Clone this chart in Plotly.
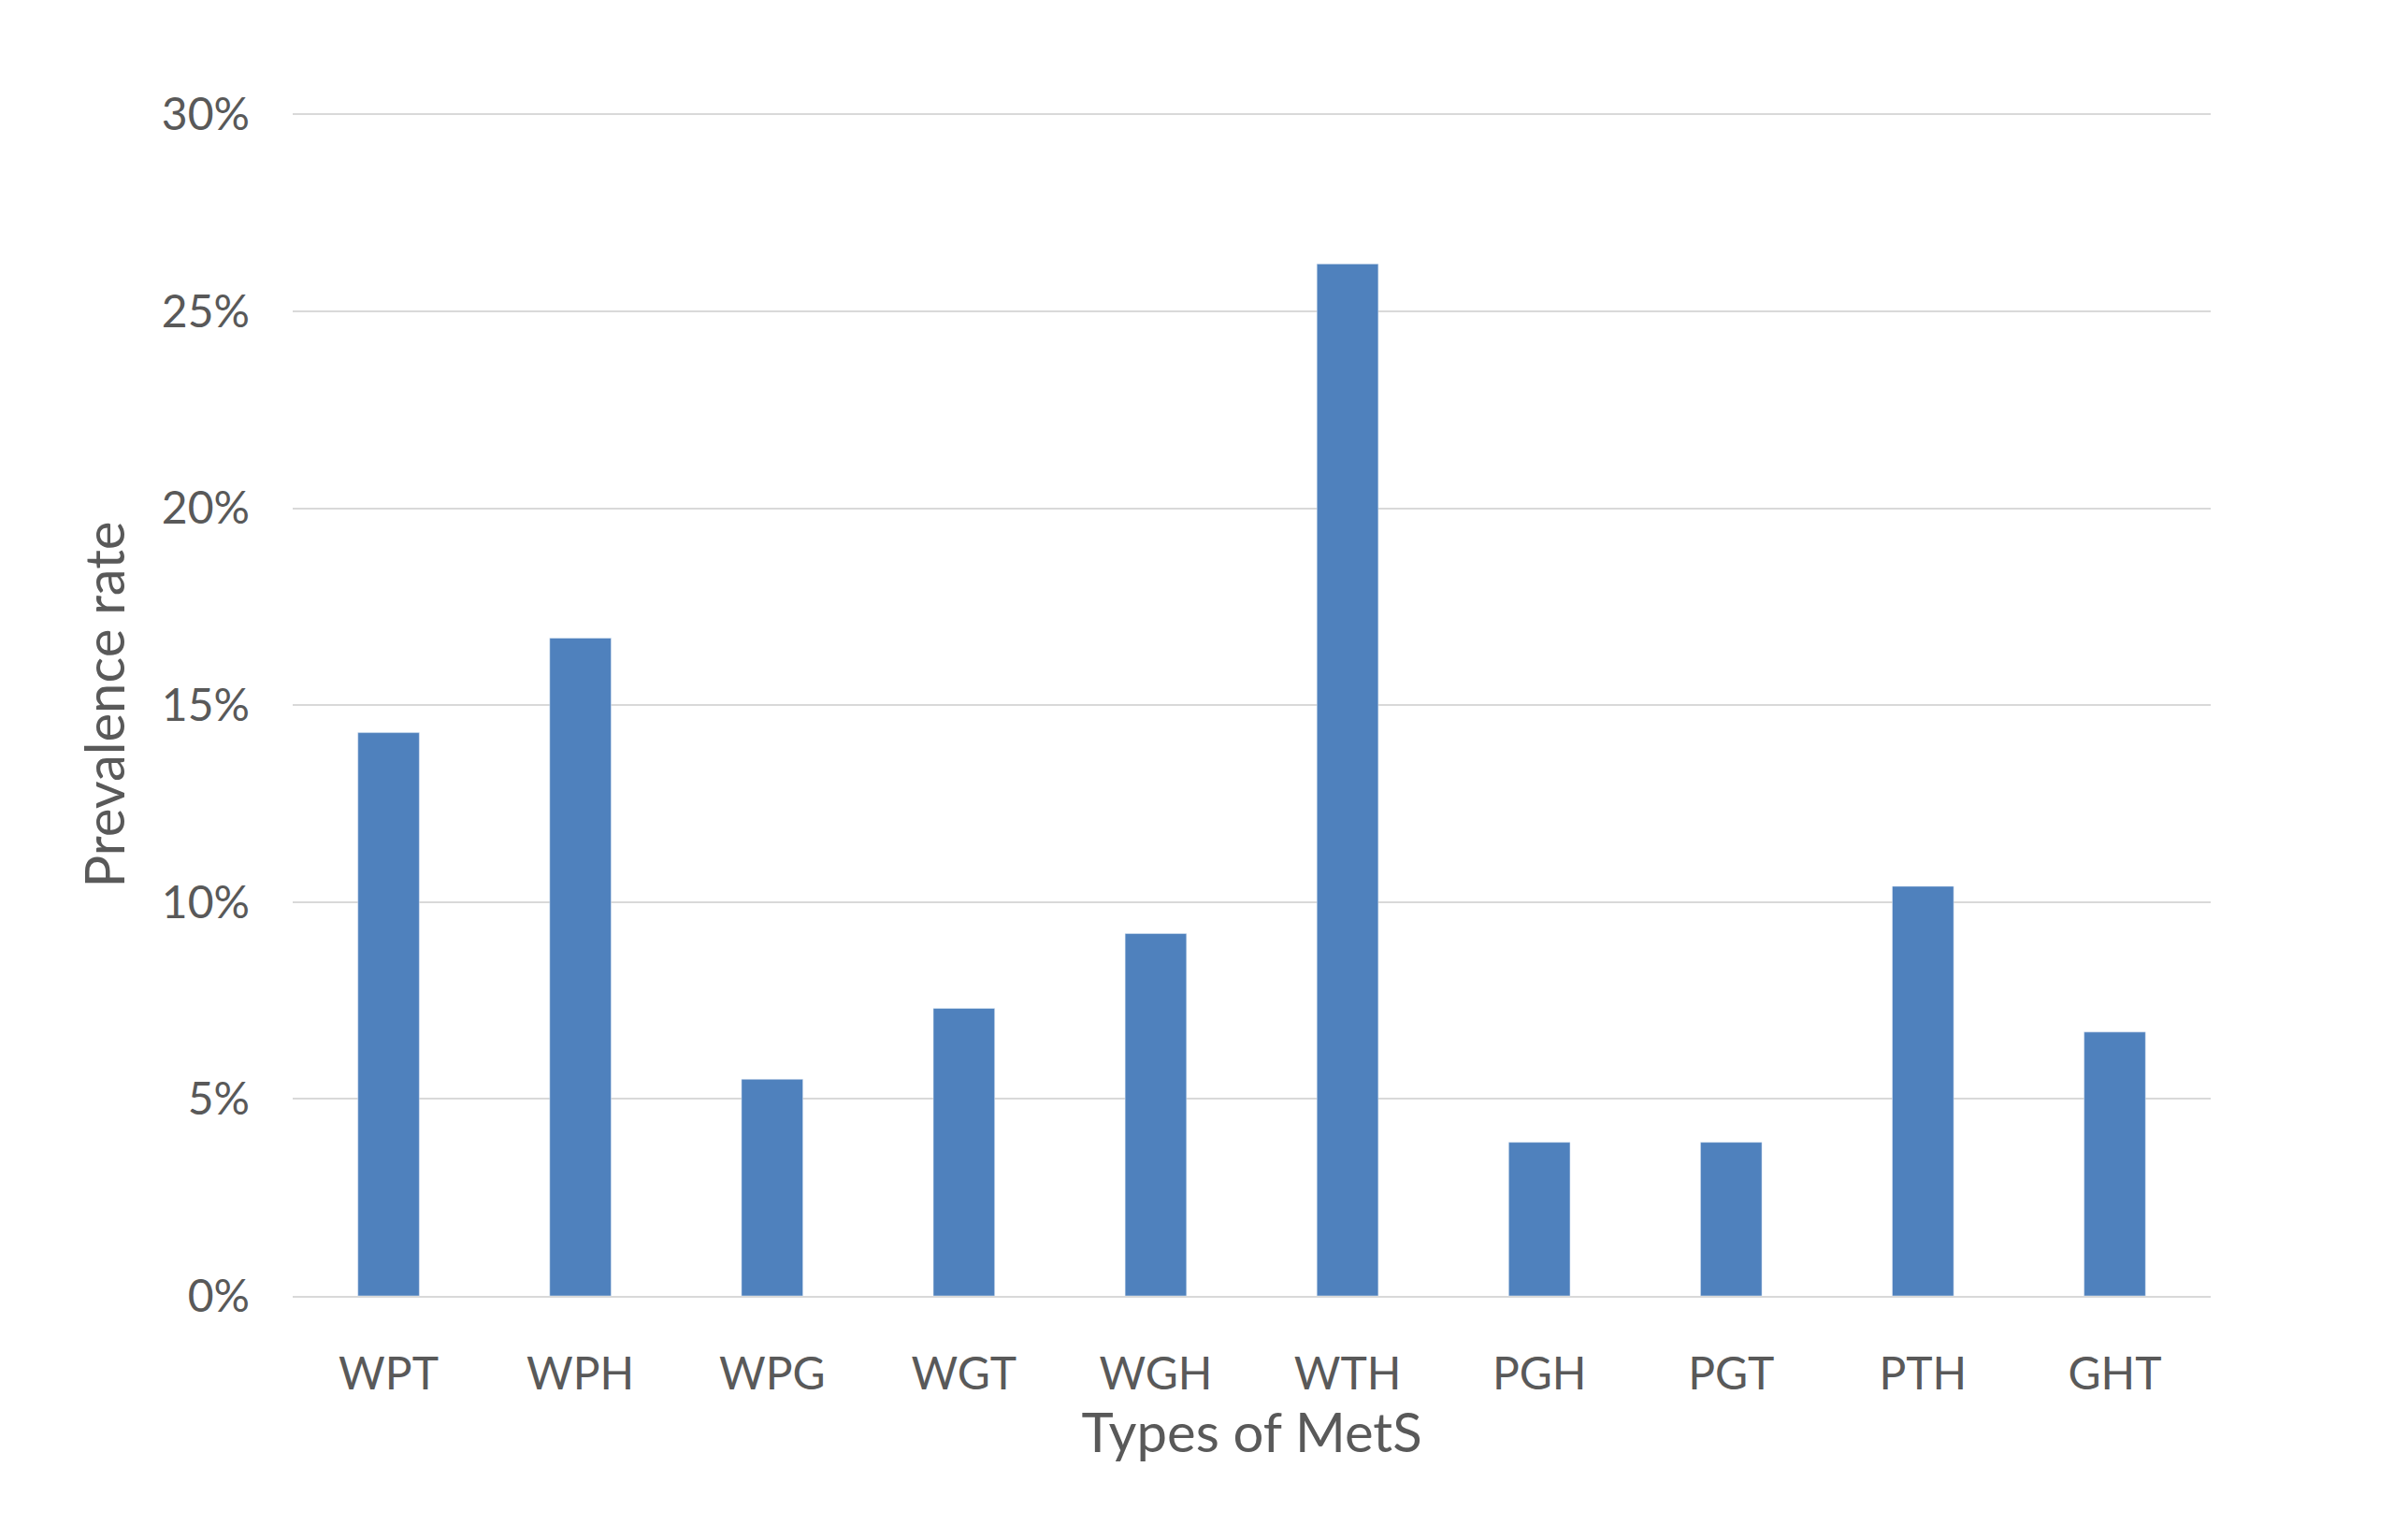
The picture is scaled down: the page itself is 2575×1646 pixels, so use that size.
import plotly.graph_objects as go

types = ['WPT', 'WPH', 'WPG', 'WGT', 'WGH', 'WTH', 'PGH', 'PGT', 'PTH', 'GHT']
rates = [0.143, 0.167, 0.055, 0.073, 0.092, 0.262, 0.039, 0.039, 0.104, 0.067]

fig = go.Figure()
fig.add_trace(go.Bar(x=types, y=rates, marker_color='#4F81BD', width=0.32))

fig.update_layout(
    width=2575, height=1646,
    plot_bgcolor='white', paper_bgcolor='white',
    margin=dict(l=305, r=219, t=113, b=268),
    font=dict(family='Lato, Open Sans, sans-serif', size=48, color='#595959'),
    showlegend=False,
)
fig.update_xaxes(title_text='Types of MetS', showline=True, linecolor='#D9D9D9', linewidth=2,
                 ticks='', ticklabelstandoff=40, title_standoff=15)
fig.update_yaxes(title_text='Prevalence rate', range=[0, 0.3003], tickvals=[0, 0.05, 0.1, 0.15, 0.2, 0.25, 0.3],
                 tickformat='.0%', gridcolor='#D9D9D9', gridwidth=2, zeroline=False,
                 ticklabelstandoff=45, title_standoff=20)

fig.write_html("out.html")
